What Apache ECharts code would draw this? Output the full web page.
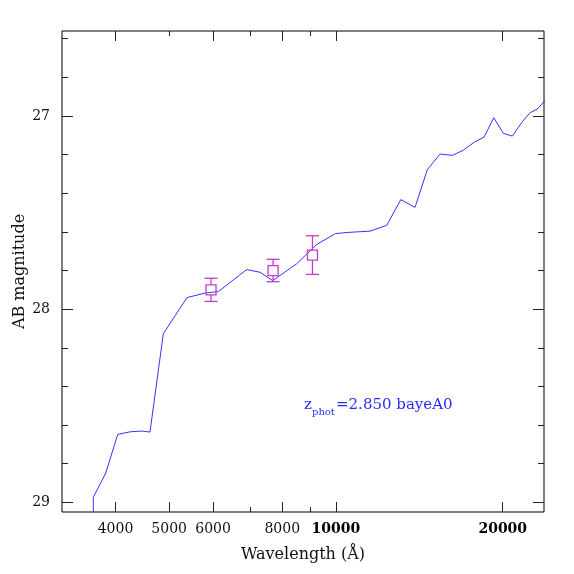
<!DOCTYPE html>
<html>
<head>
<meta charset="utf-8">
<script src="https://cdn.jsdelivr.net/npm/echarts@6/dist/echarts.min.js"></script>
<style>
  html, body { margin: 0; padding: 0; background: #fff; }
  #chart { width: 574px; height: 574px; }
</style>
</head>
<body>
<div id="chart"></div>
<script>
// SED model (wavelength in Angstrom, AB mag)
const sedLam = [3648, 3648, 3842, 4038, 4249, 4461, 4617, 4880, 5385, 5816, 6134, 6902, 7295, 7690, 8494, 9233, 9975, 10471, 11523, 12349, 13092, 13890, 14622, 15418, 16224, 16982, 17775, 18507, 19268, 20053, 20815, 21645, 22404, 23092, 24245]
const sedMag = [30.5, 28.974, 28.848, 28.648, 28.635, 28.631, 28.636, 28.127, 27.940, 27.916, 27.909, 27.795, 27.809, 27.852, 27.765, 27.665, 27.609, 27.603, 27.596, 27.566, 27.433, 27.473, 27.277, 27.197, 27.204, 27.177, 27.135, 27.109, 27.009, 27.090, 27.104, 27.033, 26.983, 26.964, 26.896]

// observed photometry
const bandLam = [5950, 7700, 9070]
const bandMag = [27.90, 27.80, 27.72]
const bandErr = [0.06, 0.058, 0.10]

// ticks
const xMajorBottom = [4000, 5000, 6000, 8000, 10000, 20000]
const xMinorBottom = [7000, 9000]
const xMajorTop = [4000, 6000, 8000, 10000, 20000]
const xMinorTop = [5000, 7000, 9000]
const yMajor = [27, 28, 29]
const yMinor = [26.6, 26.8, 27.2, 27.4, 27.6, 27.8, 28.2, 28.4, 28.6, 28.8]

const xMin = 3203
const xMax = 23740
const yMin = 26.56
const yMax = 29.05

const FONT = 'DejaVu Serif'
const tickColor = '#222'
const pink = '#c63ac6'

const xAxisOf = (position, ticks, len, labels) => ({
  type: 'log',
  logBase: 10,
  min: xMin,
  max: xMax,
  position,
  axisLine: { show: false },
  splitLine: { show: false },
  minorTick: { show: false },
  axisTick: { show: true, inside: true, length: len, customValues: ticks, lineStyle: { color: tickColor, width: 1 } },
  axisLabel: labels ? {
    show: true,
    customValues: labels,
    margin: 10,
    fontFamily: FONT,
    fontSize: 14,
    color: '#111',
    formatter: v => {
      const s = String(Math.round(v))
      return v >= 10000 ? `{b|${s}}` : s
    },
    rich: { b: { fontFamily: FONT, fontSize: 14, fontWeight: 'bold', color: '#000' } }
  } : { show: false }
})

const yAxisOf = (position, ticks, len, labels) => ({
  type: 'value',
  inverse: true,
  min: yMin,
  max: yMax,
  position,
  axisLine: { show: false },
  splitLine: { show: false },
  axisTick: { show: true, inside: true, length: len, customValues: ticks, lineStyle: { color: tickColor, width: 1 } },
  axisLabel: labels ? {
    show: true,
    customValues: labels,
    margin: 12,
    fontFamily: FONT,
    fontSize: 14,
    color: '#111',
    formatter: v => String(Math.round(v))
  } : { show: false }
})

const xAxes = [
  xAxisOf('bottom', xMajorBottom, 10, xMajorBottom),
  xAxisOf('bottom', xMinorBottom, 5),
  xAxisOf('top', xMajorTop, 10),
  xAxisOf('top', xMinorTop, 5)
]
Object.assign(xAxes[0], {
  name: 'Wavelength (Å)',
  nameLocation: 'middle',
  nameGap: 35,
  nameMoveOverlap: false,
  nameTextStyle: { fontFamily: FONT, fontSize: 16, color: '#111' }
})

const yAxes = [
  yAxisOf('left', yMajor, 11, yMajor),
  yAxisOf('left', yMinor, 6),
  yAxisOf('right', yMajor, 11),
  yAxisOf('right', yMinor, 6)
]
Object.assign(yAxes[0], {
  name: 'AB magnitude',
  nameLocation: 'middle',
  nameRotate: 90,
  nameGap: 34,
  nameMoveOverlap: false,
  nameTextStyle: { fontFamily: FONT, fontSize: 16, color: '#111' }
})

const sedData = sedLam.map((l, i) => [l, sedMag[i]])
const bandData = bandLam.map((l, i) => [l, bandMag[i], bandErr[i]])

// error bar + open square
const renderBand = (params, api) => {
  const x = api.value(0)
  const y = api.value(1)
  const e = api.value(2)
  const c = api.coord([x, y])
  const t = api.coord([x, y - e])
  const b = api.coord([x, y + e])
  const half = 5
  const cap = 6.5
  const st = { stroke: pink, lineWidth: 1.3, fill: 'none' }
  return {
    type: 'group',
    children: [
      { type: 'line', shape: { x1: c[0], y1: t[1], x2: c[0], y2: c[1] - half }, style: st },
      { type: 'line', shape: { x1: c[0], y1: c[1] + half, x2: c[0], y2: b[1] }, style: st },
      { type: 'line', shape: { x1: c[0] - cap, y1: t[1], x2: c[0] + cap, y2: t[1] }, style: st },
      { type: 'line', shape: { x1: c[0] - cap, y1: b[1], x2: c[0] + cap, y2: b[1] }, style: st },
      { type: 'rect', shape: { x: c[0] - half, y: c[1] - half, width: half * 2, height: half * 2 }, style: st }
    ]
  }
}

const chart = echarts.init(document.getElementById('chart'), null, { renderer: 'canvas' })
chart.setOption({
  animation: false,
  backgroundColor: '#fff',
  grid: {
    left: 62, right: 30, top: 31, bottom: 62,
    outerBoundsMode: 'none',
    containLabel: false,
    show: true, borderColor: '#000', borderWidth: 1, backgroundColor: 'transparent'
  },
  xAxis: xAxes,
  yAxis: yAxes,
  series: [
    {
      type: 'line',
      data: sedData,
      xAxisIndex: 0,
      yAxisIndex: 0,
      showSymbol: false,
      clip: true,
      lineStyle: { color: '#3333ff', width: 1 },
      z: 2
    },
    {
      type: 'custom',
      data: bandData,
      xAxisIndex: 0,
      yAxisIndex: 0,
      encode: { x: 0, y: 1 },
      renderItem: renderBand,
      clip: true,
      z: 3
    }
  ],
  graphic: [
    { type: 'text', left: 304, top: 398, style: { text: 'z', font: `15px "${FONT}"`, fill: '#2b2bff' } },
    { type: 'text', left: 312, top: 407, style: { text: 'phot', font: `10px "${FONT}"`, fill: '#2b2bff' } },
    { type: 'text', left: 336, top: 398, style: { text: '=2.850 bayeA0', font: `15px "${FONT}"`, fill: '#2b2bff' } }
  ]
})
</script>
</body>
</html>
